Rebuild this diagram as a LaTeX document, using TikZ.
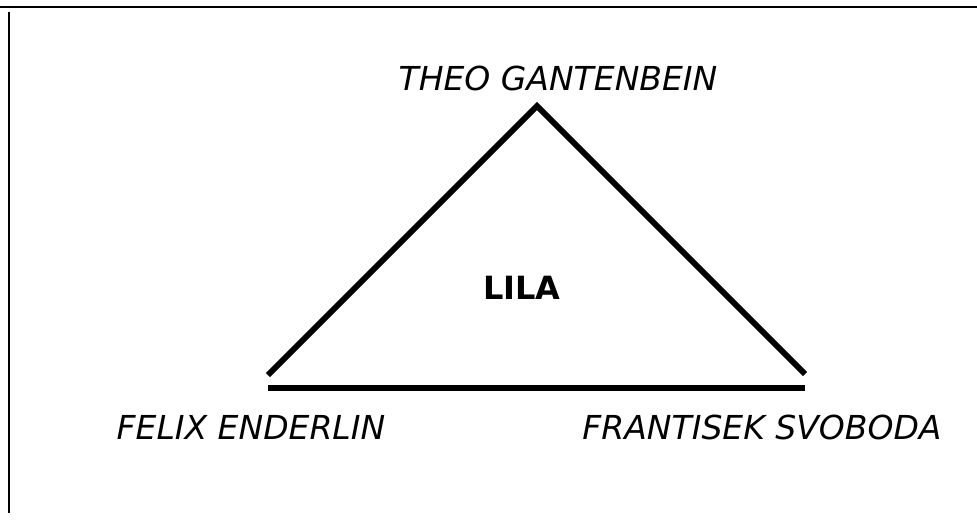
\documentclass[tikz,border=0pt]{standalone}
\usepackage{fontspec}
\setmainfont{DejaVu Sans}
\begin{document}
\begin{tikzpicture}[x=1pt,y=-1pt,
  person/.style={inner sep=0pt,font=\fontsize{33}{36}\selectfont\itshape},
  centrelabel/.style={inner sep=0pt,font=\fontsize{32}{36}\selectfont\bfseries},
  leg/.style={line width=6pt},
  frameline/.style={line width=2pt}]
\useasboundingbox (0,0) rectangle (977,527);
\coordinate (tl) at (0,7);
\coordinate (tr) at (977,7);
\coordinate (lt) at (9,12);
\coordinate (lb) at (9,513);
\draw[frameline] (tl) -- (tr);
\draw[frameline] (lt) -- (lb);
\coordinate (apex) at (537,106);
\coordinate (bl) at (268,375);
\coordinate (br) at (805,374);
\coordinate (basel) at (268,388);
\coordinate (baser) at (805,388);
\draw[leg] (bl) -- (apex) -- (br);
\draw[line width=6pt] (basel) -- (baser);
\node[person] (theo) at (558,78) {THEO GANTENBEIN};
\node[person] (felix) at (251,427) {FELIX ENDERLIN};
\node[person] (frant) at (762,427) {FRANTISEK SVOBODA};
\node[centrelabel] (lila) at (522,288) {LILA};
\end{tikzpicture}
\end{document}
